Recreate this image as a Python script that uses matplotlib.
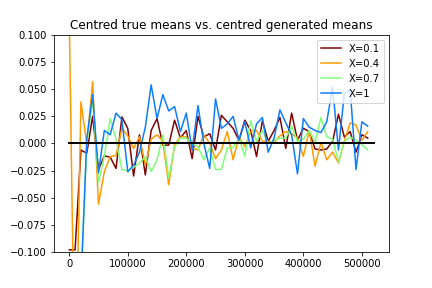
import numpy as np
import matplotlib
matplotlib.use('Agg')
import matplotlib.pyplot as plt

# sample sizes (x axis)
samples = np.arange(0, 520000, 10000)

# centred generated means minus centred true means, one list per X value
x01 = [-0.098, -0.098, -0.006, -0.009, 0.025, -0.024, -0.0115, -0.0125, -0.023, 0.0245,
       0.014, -0.030, 0.008, -0.029, 0.012, 0.023, -0.0015, -0.0015, 0.0215, 0.005,
       0.012, -0.014, 0.025, 0.006, 0.009, -0.006, 0.026, 0.020, 0.014, 0.003,
       0.0215, 0.012, -0.012, 0.021, 0.002, 0.012, 0.024, -0.0045, 0.028, 0.003,
       0.014, 0.011, -0.005, -0.006, -0.005, 0.002, 0.027, 0.006, 0.011, -0.008,
       0.008, 0.005]
x04 = [0.12, -0.24, 0.0385, 0.0, 0.057, -0.056, -0.026, -0.012, -0.011, 0.014,
       0.007, -0.0045, 0.006, -0.020, 0.004, 0.008, 0.002, -0.038, -0.001, 0.006,
       0.006, -0.004, -0.006, 0.008, 0.0, -0.014, -0.006, 0.011, -0.015, 0.006,
       -0.003, 0.011, 0.012, 0.002, 0.002, 0.001, 0.007, 0.011, 0.009, 0.005,
       -0.012, 0.012, -0.021, 0.001, -0.015, -0.008, -0.018, 0.002, 0.019, 0.017,
       0.003, 0.011]
x07 = [-0.3, -0.3, -0.13, 0.0, 0.042, -0.036, -0.012, 0.023, 0.004, -0.024,
       -0.025, -0.022, -0.018, -0.012, -0.026, -0.015, 0.008, -0.032, -0.003, 0.005,
       0.005, 0.0, -0.003, -0.015, -0.004, -0.024, -0.024, -0.004, -0.004, 0.005,
       -0.012, 0.021, 0.002, 0.012, 0.0, 0.003, 0.005, 0.005, 0.016, 0.002,
       0.004, 0.012, 0.001, 0.024, 0.006, 0.004, -0.017, 0.002, 0.006, 0.003,
       -0.001, -0.006]
x10 = [-0.3, -0.3, -0.13, 0.004, 0.045, -0.027, 0.012, 0.008, 0.028, 0.022,
       -0.026, -0.020, -0.008, 0.015, 0.054, 0.023, 0.045, 0.030, 0.034, 0.011,
       0.028, -0.006, 0.035, 0.0, -0.023, 0.041, 0.014, 0.018, 0.025, 0.003,
       0.020, -0.004, 0.018, 0.024, -0.008, 0.005, 0.031, 0.019, 0.008, -0.028,
       0.023, 0.015, 0.012, 0.010, 0.020, 0.052, -0.006, 0.046, 0.050, -0.024,
       0.020, 0.016]

labels = ['X=0.1', 'X=0.4', 'X=0.7', 'X=1']
colours = ['#800000', '#ff9a00', '#80ff78', '#0a7cff']

# centred true means are zero everywhere
true_x = [0, 520000]
true_y = [0, 0]

fig = plt.figure(figsize=(6, 4), dpi=72)
fig.subplots_adjust(left=0.125, right=0.9, top=0.8785, bottom=0.125)
ax = fig.add_subplot(111)

for ys, lab, c in zip([x01, x04, x07, x10], labels, colours):
    ax.plot(samples, ys, color=c, label=lab, lw=1.5)
ax.plot(true_x, true_y, color='k', lw=2)

ax.set_ylim(-0.1, 0.1)
ax.set_title('Centred true means vs. centred generated means')
ax.legend(loc='upper right')

fig.savefig('out.png', dpi=72)
